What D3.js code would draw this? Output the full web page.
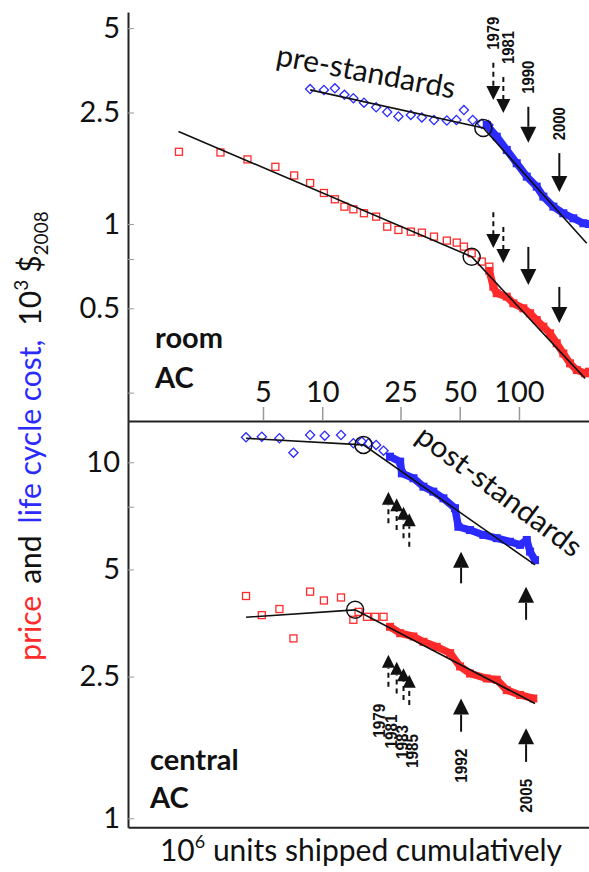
<!DOCTYPE html>
<meta charset="utf-8">
<html>
<head>
<title>room and central AC learning curves</title>
<style>
  body { margin: 0; background: #fff; }
  text { font-family: Lato, "Open Sans", sans-serif; fill: #111; }
  .axis path, .axis line { stroke: #222; }
  .tick line { stroke: #999; }
  .yr { font-family: "Liberation Sans Narrow", "Liberation Sans", Arial, sans-serif; font-weight: bold; font-size: 17px; }
</style>
<script src="https://d3js.org/d3.v7.min.js"></script>
</head>
<body>
<svg width="589" height="872"></svg>
<script>
  // ---- data (x = 10^6 units shipped cumulatively, y = 10^3 $2008) ----

  // room AC, price: open squares, then the dense filled part
  var roomPriceOpen = [[1.87,1.81],[3.04,1.80],[4.17,1.70],[5.78,1.60],[7.20,1.49],[8.68,1.40],
    [10.2,1.29],[11.6,1.225],[12.97,1.153],[14.4,1.128],[16.3,1.092],[18.8,1.062],[21.4,0.978],
    [24.4,0.952],[28.2,0.939],[32.1,0.931],[37.0,0.901],[43.0,0.872],[48.3,0.858],[52.5,0.830],
    [57.5,0.786],[64.7,0.734],[70.7,0.704]];
  var roomPriceDense = [[70.7,0.68],[74.1,0.597],[77.1,0.566],[86.7,0.550],[93.7,0.521],[105.3,0.500],
    [113.9,0.480],[123.1,0.454],[133,0.430],[143.9,0.407],[155.6,0.375],[168.1,0.345],
    [181.8,0.318],[196.7,0.301],[216.8,0.293],[227,0.297]];
  var roomPriceFit = [[1.86,2.14],[57.5,0.764],[216.8,0.281]];

  // room AC, life cycle cost
  var roomLccOpen = [[8.68,3.03],[10.2,3.01],[11.6,3.05],[12.97,2.89],[14.4,2.81],[16.3,2.71],
    [18.8,2.61],[21.4,2.51],[24.4,2.42],[28.2,2.45],[32.1,2.40],[37.0,2.35],[43.0,2.34],
    [48.1,2.35],[52.5,2.55],[58.2,2.35],[64.7,2.28],[69.9,2.257]];
  var roomLccDense = [[68.6,2.257],[77.1,2.05],[86.7,1.838],[97.4,1.647],[109.6,1.476],[123.1,1.359],
    [133,1.252],[149.6,1.153],[168.1,1.092],[189,1.048],[212.4,1.006],[227,1.0]];
  var roomLccFit = [[8.68,3.01],[65.9,2.20],[221,0.853]];

  // central AC, price
  var centralPriceOpen = [[4.10,4.21],[4.93,3.72],[6.06,3.87],[7.14,3.20],[8.68,4.33],[10.2,4.09],
    [12.46,4.17],[14.4,3.61],[15.3,3.80],[16.9,3.68],[18.6,3.68],[20.5,3.68]];
  var centralPriceDense = [[22.1,3.45],[24.9,3.31],[29.1,3.24],[32.7,3.13],[38.2,3.03],[44.7,2.91],
    [50.2,2.67],[56.4,2.55],[68.6,2.47],[77.1,2.45],[86.7,2.29],[101.3,2.22],[118.3,2.17]];
  var centralPriceFit = [[4.10,3.67],[14.7,3.85],[120.7,2.10]];

  // central AC, life cycle cost
  var centralLccOpen = [[4.10,11.75],[4.93,11.80],[6.06,11.68],[7.14,10.64],[8.68,11.93],[10.3,11.88],
    [12.46,11.93],[14.4,11.31],[15.9,11.43],[17.2,11.31],[18.8,11.19],[20.5,10.78]];
  var centralLccDense = [[22.1,10.37],[24.9,10.04],[25.4,9.31],[29.1,9.02],[32.7,8.54],[36.7,8.27],
    [41.3,7.92],[47.3,7.43],[49.2,6.59],[56.4,6.45],[65.9,6.25],[77.1,6.12],[90.1,5.98],
    [101.3,5.86],[109.6,6.05],[113.9,5.61],[120.7,5.31]];
  var centralLccFit = [[4.10,11.68],[16.2,11.19],[120.7,5.15]];

  // standards: year, x, lcc tail, lcc tip, price tail, price tip, dashed
  var roomStandards = [
    ["1979", 74.1, 3.76, 2.77, 1.10, 0.821, true],
    ["1981", 83.3, 3.35, 2.49, 0.976, 0.726, true],
    ["1990", 111.6, 2.62, 1.95, 0.828, 0.606, false],
    ["2000", 160.4, 1.79, 1.30, 0.596, 0.443, false]];
  var centralStandards = [
    ["1979", 21.7, 6.74, 8.27, 2.34, 2.88, true],
    ["1981", 23.9, 6.45, 7.92, 2.24, 2.75, true],
    ["1983", 25.9, 6.12, 7.50, 2.15, 2.64, true],
    ["1985", 27.7, 5.79, 7.19, 2.08, 2.53, true],
    ["1992", 50.8, 4.57, 5.61, 1.75, 2.17, false],
    ["2005", 108.7, 3.61, 4.47, 1.44, 1.79, false]];

  var xTicks = [5, 10, 25, 50, 100];
  var roomTicks = [5, 2.5, 1, 0.75, 0.5, 0.25];
  var roomLabels = [5, 2.5, 1, 0.5];
  var centralTicks = [10, 7.5, 5, 2.5, 1];
  var centralLabels = [10, 5, 2.5, 1];

  var RED = "#ff2b2b", BLUE = "#2b2bff";

  var svg = d3.select("svg");

  // scales
  var x = d3.scaleLog().domain([1.03, 227]).range([128, 589]);
  var yRoom = d3.scaleLog().domain([0.198, 5.71]).range([421, 12]);
  var yCentral = d3.scaleLog().domain([0.943, 13.06]).range([827.3, 421]);

  // axes
  function yAxis(scale, ticks, labels) {
    var ax = d3.axisLeft(scale)
        .tickValues(ticks)
        .tickSizeInner(-6)
        .tickSizeOuter(0)
        .tickPadding(8)
        .tickFormat(function(d) { return labels.indexOf(d) >= 0 ? d : ""; });
    var g = svg.append("g").attr("class", "axis").attr("transform", "translate(128,0)").call(ax);
    g.select(".domain").attr("stroke-width", 2);
    g.selectAll("text").attr("font-size", 29).attr("fill", "#111")
        .attr("font-family", "Lato, sans-serif");
    return g;
  }
  yAxis(yRoom, roomTicks, roomLabels);
  yAxis(yCentral, centralTicks, centralLabels);

  var gx = svg.append("g").attr("class", "axis").attr("transform", "translate(0,421)")
      .call(d3.axisTop(x).tickValues(xTicks).tickSizeInner(14).tickSizeOuter(0).tickPadding(5)
        .tickFormat(d3.format("d")));
  gx.select(".domain").attr("stroke-width", 2);
  gx.selectAll(".tick line").attr("stroke", "#222").attr("stroke-width", 1.5);
  gx.selectAll("text").attr("font-size", 29).attr("fill", "#111").attr("font-family", "Lato, sans-serif");

  var gb = svg.append("g").attr("class", "axis").attr("transform", "translate(0,827.3)")
      .call(d3.axisBottom(x).tickValues([]).tickSizeOuter(0));
  gb.select(".domain").attr("stroke-width", 2);

  // one panel
  function panel(y, priceOpen, priceDense, priceFit, lccOpen, lccDense, lccFit) {
    var g = svg.append("g");
    var line = d3.line().x(function(d) { return x(d[0]); }).y(function(d) { return y(d[1]); });

    [[lccDense, BLUE], [priceDense, RED]].forEach(function(s) {
      g.append("path").attr("d", line(s[0])).attr("fill", "none")
          .attr("stroke", s[1]).attr("stroke-width", 7.5).attr("stroke-linejoin", "round");
      g.selectAll(null).data(s[0]).enter().append("rect")
          .attr("x", function(d) { return x(d[0]) - 4; })
          .attr("y", function(d) { return y(d[1]) - 4; })
          .attr("width", 8).attr("height", 8).attr("fill", s[1]);
    });

    g.selectAll(null).data(priceOpen).enter().append("rect")
        .attr("x", function(d) { return x(d[0]) - 3.5; })
        .attr("y", function(d) { return y(d[1]) - 3.5; })
        .attr("width", 7).attr("height", 7)
        .attr("fill", "none").attr("stroke", RED).attr("stroke-width", 1.3);

    g.selectAll(null).data(lccOpen).enter().append("path")
        .attr("d", d3.symbol(d3.symbolSquare, 42))
        .attr("transform", function(d) { return "translate(" + x(d[0]) + "," + y(d[1]) + ") rotate(45)"; })
        .attr("fill", "none").attr("stroke", BLUE).attr("stroke-width", 1.3);

    [priceFit, lccFit].forEach(function(f) {
      g.append("path").attr("d", line(f)).attr("fill", "none")
          .attr("stroke", "#111").attr("stroke-width", 1.6);
      g.append("circle").attr("cx", x(f[1][0])).attr("cy", y(f[1][1])).attr("r", 8.5)
          .attr("fill", "none").attr("stroke", "#111").attr("stroke-width", 1.5);
    });
  }
  panel(yRoom, roomPriceOpen, roomPriceDense, roomPriceFit, roomLccOpen, roomLccDense, roomLccFit);
  panel(yCentral, centralPriceOpen, centralPriceDense, centralPriceFit, centralLccOpen, centralLccDense, centralLccFit);

  // standard arrows
  function arrow(px, y0, y1, dashed, head) {
    var dir = y1 > y0 ? 1 : -1;
    svg.append("line").attr("x1", px).attr("x2", px).attr("y1", y0).attr("y2", y1 - dir * head)
        .attr("stroke", "#111").attr("stroke-width", 2)
        .attr("stroke-dasharray", dashed ? "5,4" : null);
    svg.append("path")
        .attr("d", "M" + (px - head / 2) + "," + (y1 - dir * head) + "L" + (px + head / 2) + "," +
          (y1 - dir * head) + "L" + px + "," + y1 + "Z")
        .attr("fill", "#111");
  }
  roomStandards.forEach(function(s) {
    var px = x(s[1]), head = s[6] ? 14 : 16;
    arrow(px, yRoom(s[2]), yRoom(s[3]), s[6], head);
    arrow(px, yRoom(s[4]), yRoom(s[5]), s[6], head);
    svg.append("text").attr("class", "yr")
        .attr("transform", "translate(" + (px + (s[0] === "1981" ? 5 : 0)) + "," + (yRoom(s[2]) - 13) + ") rotate(-90)")
        .attr("dominant-baseline", "central").attr("textLength", 33).attr("lengthAdjust", "spacingAndGlyphs")
        .text(s[0]);
  });
  centralStandards.forEach(function(s, i) {
    var px = x(s[1]), head = s[6] ? 13 : 16;
    arrow(px, yCentral(s[2]), yCentral(s[3]), s[6], head);
    arrow(px, yCentral(s[4]), yCentral(s[5]), s[6], head);
    var shift = s[6] ? (i - 1.5) * 4 : 0;
    svg.append("text").attr("class", "yr")
        .attr("transform", "translate(" + (px + shift - (s[6] ? 3 : 0)) + "," + (yCentral(s[4]) + 17 + (s[6] ? i * 4 : 0)) + ") rotate(-90)")
        .attr("dominant-baseline", "central").attr("text-anchor", "end")
        .attr("textLength", 34).attr("lengthAdjust", "spacingAndGlyphs")
        .text(s[0]);
  });

  // labels
  svg.append("text").attr("transform", "translate(275,65) rotate(10.7)")
      .attr("font-size", 30).text("pre-standards");
  svg.append("text").attr("transform", "translate(414,440) rotate(36.7)")
      .attr("font-size", 29).attr("textLength", 198).attr("lengthAdjust", "spacingAndGlyphs")
      .text("post-standards");

  [["room", 155, 348], ["AC", 155, 388], ["central", 150, 770], ["AC", 150, 808]].forEach(function(t) {
    svg.append("text").attr("x", t[1]).attr("y", t[2]).attr("font-size", 29)
        .attr("font-weight", "bold").text(t[0]);
  });

  // axis titles
  var yt = svg.append("text").attr("transform", "translate(41,436) rotate(-90)")
      .attr("text-anchor", "middle").attr("font-size", 30);
  yt.append("tspan").attr("fill", RED).text("price");
  yt.append("tspan").attr("dx", 12).text("and");
  yt.append("tspan").attr("dx", 12).attr("fill", BLUE).text("life cycle cost,");
  yt.append("tspan").attr("dx", 14).text("10");
  yt.append("tspan").attr("font-size", 19).attr("dy", -13).text("3");
  yt.append("tspan").attr("dx", 7).attr("dy", 13).text("$");
  yt.append("tspan").attr("font-size", 19).attr("dy", 7).text("2008");

  var xt = svg.append("text").attr("x", 361).attr("y", 861)
      .attr("text-anchor", "middle").attr("font-size", 30);
  xt.append("tspan").text("10");
  xt.append("tspan").attr("font-size", 18).attr("dy", -13).text("6");
  xt.append("tspan").attr("dy", 13).text(" units shipped cumulatively");
</script>
</body>
</html>
